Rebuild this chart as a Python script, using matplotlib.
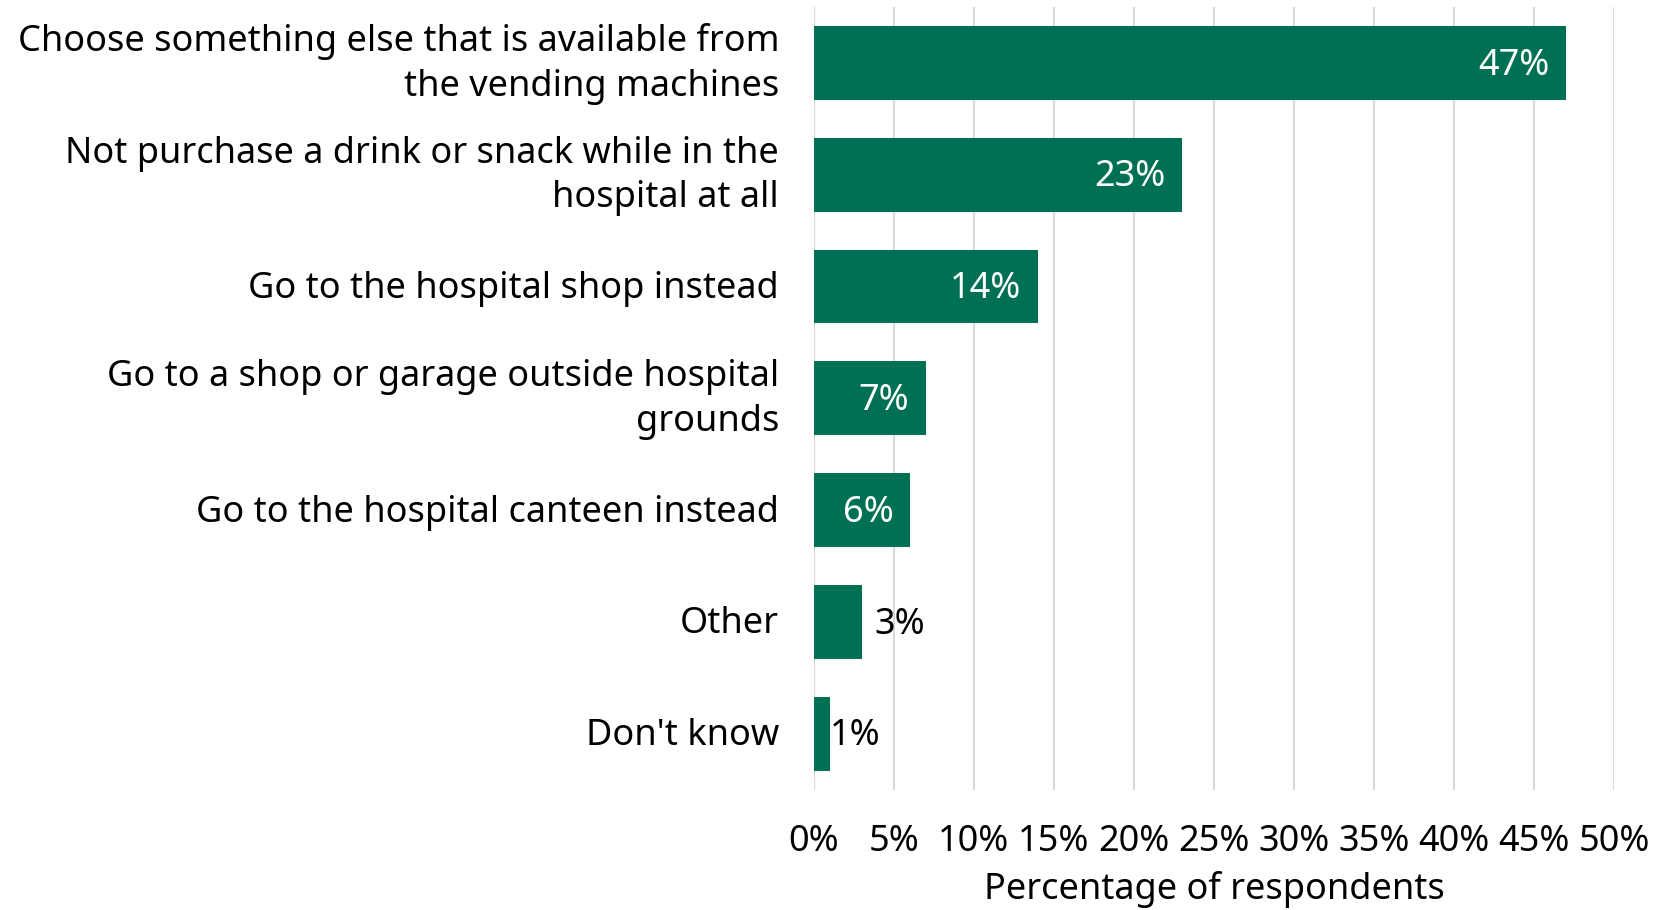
import matplotlib
matplotlib.use("Agg")
import matplotlib.pyplot as plt
from matplotlib.ticker import MultipleLocator, FuncFormatter
from matplotlib.transforms import ScaledTranslation

plt.rcParams['font.family'] = ['Noto Sans', 'DejaVu Sans']

categories = [
    "Choose something else that is available from\nthe vending machines",
    "Not purchase a drink or snack while in the\nhospital at all",
    "Go to the hospital shop instead",
    "Go to a shop or garage outside hospital\ngrounds",
    "Go to the hospital canteen instead",
    "Other",
    "Don't know",
]
values = [47, 23, 14, 7, 6, 3, 1]
inside_label = [True, True, True, True, True, False, False]

bar_color = "#007054"
grid_color = "#d9d9d9"
font_size = 26
# label offsets (points) beside the bar end
outside_pad = {3: 9, 1: 0}

fig = plt.figure(figsize=(16.55, 9.1), dpi=100)
ax = fig.add_axes([0.4918, 0.1323, 0.4834, 0.8600])

y = list(range(len(categories)))
bars = ax.barh(y, values, height=0.66, color=bar_color, zorder=3)
ax.set_ylim(len(categories) - 0.5, -0.5)
ax.set_xlim(0, 50)

ax.xaxis.set_major_locator(MultipleLocator(5))
ax.xaxis.set_major_formatter(FuncFormatter(lambda v, p: f"{v:.0f}%"))
ax.grid(axis="x", color=grid_color, linewidth=1.5, zorder=0)
ax.set_axisbelow(True)

ax.set_yticks(y)
ax.set_yticklabels(categories, fontsize=font_size, linespacing=1.31)
ax.tick_params(axis="y", length=0, pad=25)
ax.tick_params(axis="x", length=0, pad=25, labelsize=font_size)
for s in ax.spines.values():
    s.set_visible(False)

# nudge category labels so wrapped text sits centred on its bar
for lbl in ax.get_yticklabels():
    lift = 5.5 if "\n" in lbl.get_text() else 1.5
    lbl.set_transform(lbl.get_transform() +
                      ScaledTranslation(0, lift / 72, fig.dpi_scale_trans))

ax.set_xlabel("Percentage of respondents", fontsize=font_size, labelpad=8)

for bar, v, inside in zip(bars, values, inside_label):
    cy = bar.get_y() + bar.get_height() / 2
    if inside:
        ax.annotate(f"{v}%", (v, cy), xytext=(-12, -2), textcoords="offset points",
                    ha="right", va="center", color="white", fontsize=font_size)
    else:
        ax.annotate(f"{v}%", (v, cy), xytext=(outside_pad.get(v, 4), -2),
                    textcoords="offset points",
                    ha="left", va="center", color="black", fontsize=font_size)

fig.savefig("out.png", dpi=100, facecolor="white")
